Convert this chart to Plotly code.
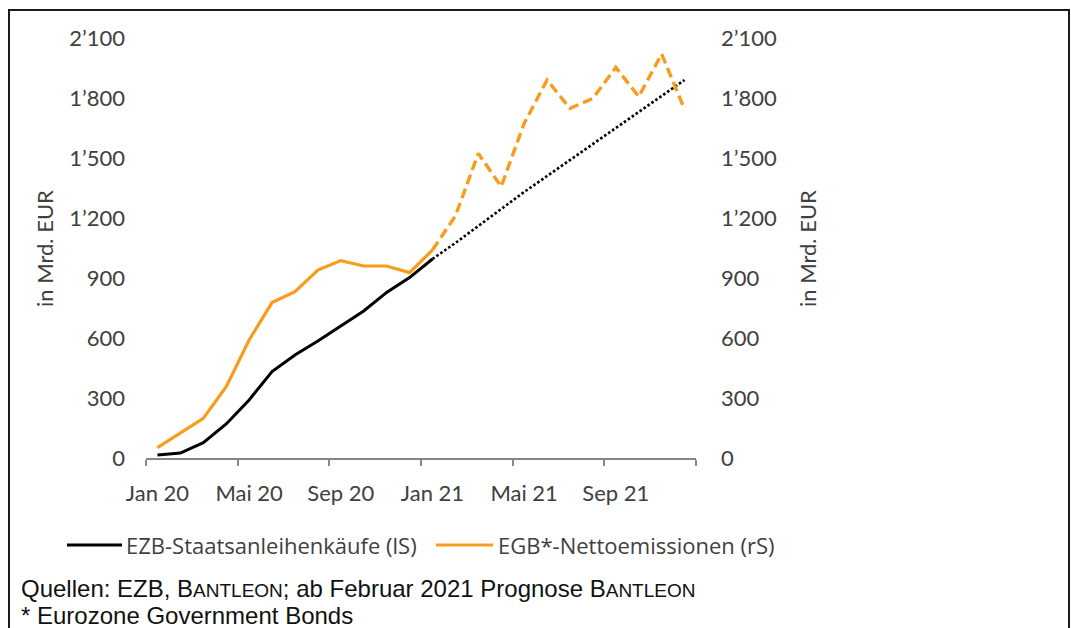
import plotly.graph_objects as go

# ---------------- data ----------------
months = ["Jan 20", "Feb 20", "Mär 20", "Apr 20", "Mai 20", "Jun 20", "Jul 20", "Aug 20",
          "Sep 20", "Okt 20", "Nov 20", "Dez 20", "Jan 21", "Feb 21", "Mär 21", "Apr 21",
          "Mai 21", "Jun 21", "Jul 21", "Aug 21", "Sep 21", "Okt 21", "Nov 21", "Dez 21"]

# EZB-Staatsanleihenkäufe (left scale), actual Jan 20 - Jan 21
ezb_actual = [15, 25, 77, 170, 290, 432, 515, 585, 660, 735, 828, 902, 995]
# forecast Jan 21 - Dez 21
ezb_forecast = [995, 1075, 1160, 1245, 1330, 1410, 1490, 1570, 1650, 1730, 1810, 1890]

# EGB*-Nettoemissionen (right scale), actual Jan 20 - Jan 21
egb_actual = [52, 123, 198, 357, 590, 777, 832, 940, 987, 960, 960, 927, 1040]
# forecast Jan 21 - Dez 21
egb_forecast = [1040, 1210, 1523, 1357, 1673, 1890, 1748, 1798, 1953, 1807, 2020, 1743]

y_ticks = [0, 300, 600, 900, 1200, 1500, 1800, 2100]
y_ticktext = ["0", "300", "600", "900", "1\u2019200", "1\u2019500", "1\u2019800", "2\u2019100"]
x_tick_labels = ["Jan 20", "Mai 20", "Sep 20", "Jan 21", "Mai 21", "Sep 21"]

legend_names = ["EZB-Staatsanleihenkäufe (lS)", "EGB*-Nettoemissionen (rS)"]
footer_1 = ("Quellen: EZB, B<span style='font-size:19px'>ANTLEON</span>; ab Februar 2021 "
            "Prognose B<span style='font-size:19px'>ANTLEON</span>")
footer_2 = "* Eurozone Government Bonds"
axis_title = "in Mrd. EUR"

# ---------------- layout geometry ----------------
W, H = 1071, 628
L, R, T, B = 146, 375, 38, 170
PW, PH = W - L - R, H - T - B


def px2x(px):
    return (px - L) / PW


def py2y(py):
    return (H - B - py) / PH


BLACK = "#000000"
ORANGE = "#F99B1C"
TXT = "#404040"
FONT = "Lato"

idx = list(range(len(months)))
i_split = len(ezb_actual) - 1
x_act = idx[: len(ezb_actual)]
x_fc = idx[i_split: i_split + len(ezb_forecast)]

fig = go.Figure()
fig.add_trace(go.Scatter(x=x_act, y=ezb_actual, mode="lines", name=legend_names[0],
                         line=dict(color=BLACK, width=3), yaxis="y"))
fig.add_trace(go.Scatter(x=x_fc, y=ezb_forecast, mode="lines", name=legend_names[0] + " Prognose",
                         line=dict(color=BLACK, width=2.6, dash="2.6px,2.2px"), yaxis="y"))
fig.add_trace(go.Scatter(x=x_act, y=egb_actual, mode="lines", name=legend_names[1],
                         line=dict(color=ORANGE, width=3.2), yaxis="y2"))
fig.add_trace(go.Scatter(x=x_fc, y=egb_forecast, mode="lines", name=legend_names[1] + " Prognose",
                         line=dict(color=ORANGE, width=3.4, dash="10px,5px"), yaxis="y2"))

fig.update_layout(
    width=W, height=H,
    margin=dict(l=L, r=R, t=T, b=B, pad=0, autoexpand=False),
    paper_bgcolor="white", plot_bgcolor="white",
    font=dict(family=FONT, color=TXT, size=22),
    showlegend=False,
    xaxis=dict(
        range=[-0.5, len(months) - 0.5],
        tickmode="array", tickvals=[0, 4, 8, 12, 16, 20], ticktext=x_tick_labels,
        ticks="outside", ticklen=15, tickcolor="rgba(0,0,0,0)",
        showline=True, linecolor="#878787", linewidth=2,
        showgrid=False, zeroline=False,
        tickfont=dict(family=FONT, size=22, color=TXT),
        minor=dict(tickmode="array", tickvals=[-0.5, 3.5, 7.5, 11.5, 15.5, 19.5, 23.5],
                   ticks="outside", ticklen=6, tickwidth=2, tickcolor="#878787",
                   showgrid=False),
    ),
    yaxis=dict(
        range=[0, 2100], tickmode="array", tickvals=y_ticks, ticktext=y_ticktext,
        showgrid=False, zeroline=False, showline=False, ticks="",
        ticklabelstandoff=20,
        tickfont=dict(family=FONT, size=22, color=TXT),
    ),
    yaxis2=dict(
        range=[0, 2100], tickmode="array", tickvals=y_ticks, ticktext=y_ticktext,
        overlaying="y", side="right",
        showgrid=False, zeroline=False, showline=False, ticks="",
        ticklabelstandoff=24,
        tickfont=dict(family=FONT, size=22, color=TXT),
    ),
)

# ---- legend (drawn manually to match the reference layout) ----
legend_y = py2y(545)
for (x0, x1, tx, color, name) in [(67, 122, 124, BLACK, legend_names[0]),
                                  (436, 493, 496, ORANGE, legend_names[1])]:
    fig.add_shape(type="line", xref="paper", yref="paper", x0=px2x(x0), x1=px2x(x1),
                  y0=legend_y, y1=legend_y, line=dict(color=color, width=3))
    fig.add_annotation(text=name, xref="paper", yref="paper", x=px2x(tx), y=legend_y,
                       showarrow=False, xanchor="left", yanchor="middle",
                       font=dict(family="Open Sans", size=22, color=TXT))

fig.add_annotation(text=axis_title, xref="paper", yref="paper", x=px2x(44), y=py2y(249),
                   textangle=-90, showarrow=False, xanchor="center", yanchor="middle",
                   font=dict(family=FONT, size=22, color=TXT))
fig.add_annotation(text=axis_title, xref="paper", yref="paper", x=px2x(807), y=py2y(249),
                   textangle=-90, showarrow=False, xanchor="center", yanchor="middle",
                   font=dict(family=FONT, size=22, color=TXT))
fig.add_annotation(text=footer_1, xref="paper", yref="paper", x=px2x(19), y=py2y(588),
                   showarrow=False, xanchor="left", yanchor="middle",
                   font=dict(family="Liberation Sans", size=24, color="#111111"))
fig.add_annotation(text=footer_2, xref="paper", yref="paper", x=px2x(19), y=py2y(615),
                   showarrow=False, xanchor="left", yanchor="middle",
                   font=dict(family="Liberation Sans", size=24, color="#111111"))

fig.add_shape(type="rect", xref="paper", yref="paper",
              x0=px2x(9), x1=px2x(1069), y0=py2y(650), y1=py2y(10),
              line=dict(color="#1a1a1a", width=2), fillcolor="rgba(0,0,0,0)", layer="above")

fig.write_html("out.html")
